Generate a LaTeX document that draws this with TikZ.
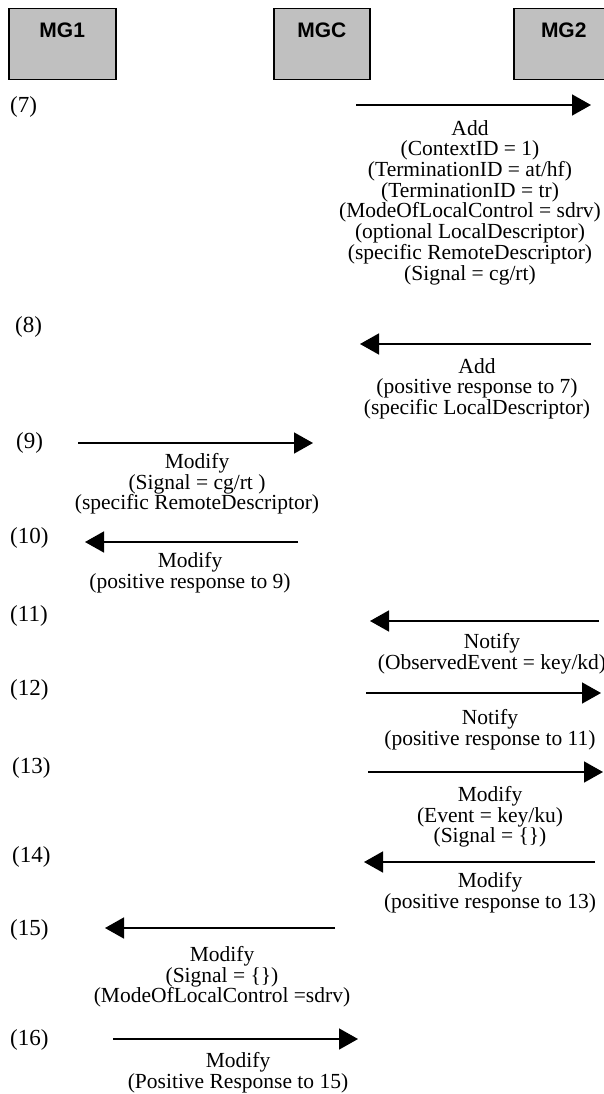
\documentclass[tikz,border=0pt]{standalone}
\usepackage{fontspec}
\setmainfont{Liberation Serif}
\newfontfamily\boxfont{Liberation Sans}
\usepackage{xcolor}
\usetikzlibrary{arrows.meta,positioning}

\definecolor{boxgray}{HTML}{C0C0C0}

\begin{document}
\begin{tikzpicture}[
  x=1pt, y=-1pt,
  >={Triangle[length=19pt,width=21pt]},
  ent/.style={draw, line width=1.5pt, fill=boxgray, anchor=north west,
    minimum width=#1, minimum height=71pt, inner sep=0pt,
    text height=29pt, text depth=42pt,
    font=\boxfont\bfseries\fontsize{21}{21}\selectfont},
  msg/.style={->, line width=1.6pt},
  num/.style={anchor=west, inner sep=0pt, font=\fontsize{23}{23}\selectfont},
  txt/.style={anchor=north, align=center, inner sep=0pt,
    font=\fontsize{21.5}{20.7}\selectfont}
]
\useasboundingbox (0,0) rectangle (604,1094);
\clip (0,0) rectangle (604,1094);

% entities
\node[ent=107pt] (mg1) at (8,8) {MG1};
\node[ent=96pt] (mgc) at (273,8) {MGC};
\node[ent=100pt] (mg2) at (513,8) {MG2};

% (7)
\node[num] (n7) at (10,107) {(7)};
\coordinate (s7) at (356,105);
\coordinate (e7) at (591,105);
\draw[msg] (s7) -- (e7);
\node[txt] (t7) at (470,120) {Add\\(ContextID = 1)\\(TerminationID = at/hf)\\(TerminationID = tr)\\(ModeOfLocalControl = sdrv)\\(optional LocalDescriptor)\\(specific RemoteDescriptor)\\(Signal = cg/rt)};

% (8)
\node[num] (n8) at (15,327) {(8)};
\coordinate (s8) at (591,344);
\coordinate (e8) at (360,344);
\draw[msg] (s8) -- (e8);
\node[txt] (t8) at (477,358) {Add\\(positive response to 7)\\(specific LocalDescriptor)};

% (9)
\node[num] (n9) at (16,443) {(9)};
\coordinate (s9) at (78,443);
\coordinate (e9) at (313,443);
\draw[msg] (s9) -- (e9);
\node[txt] (t9) at (197,453) {Modify\\(Signal = cg/rt )\\(specific RemoteDescriptor)};

% (10)
\node[num] (n10) at (10,538) {(10)};
\coordinate (s10) at (298,542);
\coordinate (e10) at (85,542);
\draw[msg] (s10) -- (e10);
\node[txt] (t10) at (190,552) {Modify\\(positive response to 9)};

% (11)
\node[num] (n11) at (10,616) {(11)};
\coordinate (s11) at (599,621);
\coordinate (e11) at (370,621);
\draw[msg] (s11) -- (e11);
\node[txt] (t11) at (492,633) {Notify\\(ObservedEvent = key/kd)};

% (12)
\node[num] (n12) at (10,690) {(12)};
\coordinate (s12) at (366,693);
\coordinate (e12) at (601,693);
\draw[msg] (s12) -- (e12);
\node[txt] (t12) at (490,709) {Notify\\(positive response to 11)};

% (13)
\node[num] (n13) at (12,768) {(13)};
\coordinate (s13) at (368,772);
\coordinate (e13) at (603,772);
\draw[msg] (s13) -- (e13);
\node[txt] (t13) at (490,786) {Modify\\(Event = key/ku)\\(Signal = \{\})};

% (14)
\node[num] (n14) at (12,857) {(14)};
\coordinate (s14) at (595,862);
\coordinate (e14) at (364,862);
\draw[msg] (s14) -- (e14);
\node[txt] (t14) at (490,872) {Modify\\(positive response to 13)};

% (15)
\node[num] (n15) at (10,930) {(15)};
\coordinate (s15) at (335,928);
\coordinate (e15) at (105,928);
\draw[msg] (s15) -- (e15);
\node[txt] (t15) at (222,946) {Modify\\(Signal = \{\})\\(ModeOfLocalControl =sdrv)};

% (16)
\node[num] (n16) at (10,1040) {(16)};
\coordinate (s16) at (113,1039);
\coordinate (e16) at (358,1039);
\draw[msg] (s16) -- (e16);
\node[txt] (t16) at (238,1052) {Modify\\(Positive Response to 15)};
\end{tikzpicture}
\end{document}
